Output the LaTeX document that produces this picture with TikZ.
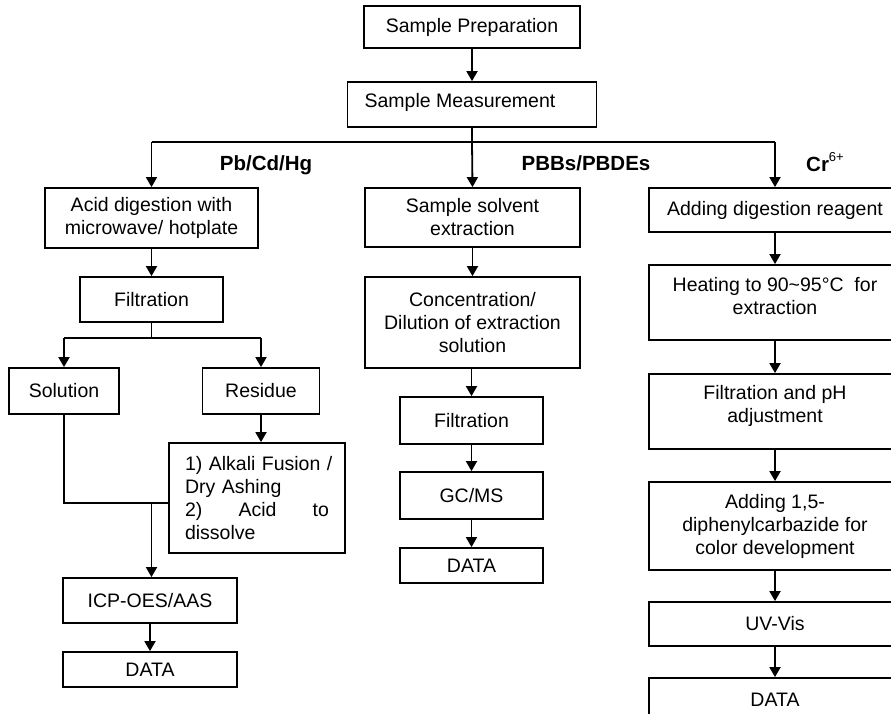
\documentclass[tikz,border=0pt]{standalone}
\usepackage{fontspec}
\setmainfont{Liberation Sans}
\usetikzlibrary{arrows.meta}
\begin{document}
\begin{tikzpicture}[x=1pt,y=-1pt,
  box/.style={draw, line width=1.8pt, inner sep=0pt, align=center, font=\fontsize{19.5}{23}\selectfont},
  txt/.style={inner sep=0pt, align=center, font=\fontsize{19.5}{23}\selectfont},
  lab/.style={inner sep=0pt, font=\fontsize{20.5}{24}\selectfont\bfseries},
  arr/.style={line width=1.8pt, -{Triangle[width=11pt,length=10pt]}},
  ln/.style={line width=1.8pt}]
\useasboundingbox (0,0) rectangle (891,713);
\fill[white] (0,0) rectangle (891,713);
\clip (0,0) rectangle (891,713);

% top
\node[box, minimum width=216pt, minimum height=42pt] (prep) at (472,27) {Sample Preparation};
\node[box, minimum width=249pt, minimum height=45pt] (meas) at (472,104.5) {};
\node[txt] (meast) at (460,102.5) {Sample Measurement};

% labels
\node[lab] (l1) at (266,165) {Pb/Cd/Hg};
\node[lab] (l2) at (586,163) {PBBs/PBDEs};
\node[lab, anchor=base west] (l3) at (806,171) {Cr\raisebox{10pt}{\fontsize{13}{14}\selectfont\mdseries 6+}};

% left column
\node[box, minimum width=213pt, minimum height=60pt] (acid) at (151.5,218) {Acid digestion with\\microwave/ hotplate};
\node[box, minimum width=143pt, minimum height=45pt] (filt1) at (151.5,299.5) {Filtration};
\node[box, minimum width=110pt, minimum height=46pt] (sol) at (64,391) {Solution};
\node[box, minimum width=117pt, minimum height=46pt] (res) at (261,391) {Residue};
\node[box, minimum width=176pt, minimum height=110pt, text width=144pt, align=left] (alk) at (257,498)
  {\mbox{1) Alkali Fusion /}\\Dry Ashing\\\makebox[144pt][s]{2)\hfill Acid\hfill to}\\dissolve};
\node[box, minimum width=174pt, minimum height=45pt] (icp) at (150,600.5) {ICP-OES/AAS};
\node[box, minimum width=174pt, minimum height=35pt] (data1) at (150,669.5) {DATA};

% middle column
\node[box, minimum width=215pt, minimum height=59pt] (solv) at (472.5,217.5) {Sample solvent\\extraction};
\node[box, minimum width=215pt, minimum height=91pt] (conc) at (472.5,322.5) {Concentration/\\Dilution of extraction\\solution};
\node[box, minimum width=143pt, minimum height=47pt] (filt2) at (471.5,420.5) {Filtration};
\node[box, minimum width=143pt, minimum height=47pt] (gcms) at (471.5,495.5) {GC/MS};
\node[box, minimum width=143pt, minimum height=35pt] (data2) at (471.5,565.5) {DATA};

% right column
\node[box, minimum width=252pt, minimum height=44pt] (addr) at (775,210) {Adding digestion reagent};
\node[box, minimum width=252pt, minimum height=75pt] (heat) at (775,302.5) {};
\node[txt] (heatt) at (775,296.5) {Heating to 90\textasciitilde95°C\ \ for\\extraction};
\node[box, minimum width=252pt, minimum height=75pt] (fph) at (775,411.5) {};
\node[txt] (fpht) at (775,405.5) {Filtration and pH\\adjustment};
\node[box, minimum width=252pt, minimum height=88pt] (dpc) at (775,526) {Adding 1,5-\\diphenylcarbazide for\\color development};
\node[box, minimum width=252pt, minimum height=44pt] (uv) at (775,624) {UV-Vis};
\node[box, minimum width=252pt, minimum height=44pt] (data3) at (775,700) {DATA};

% connectors
\draw[arr] (prep.south) -- (meas.north);
\coordinate (br1) at (472,142);
\draw[ln] (meas.south) -- (br1);
\draw[ln] (acid.north |- br1) -- (addr.north |- br1);
\draw[arr] (acid.north |- br1) -- (acid.north);
\draw[arr] (br1) -- (solv.north);
\draw[arr] (addr.north |- br1) -- (addr.north);

\draw[arr] (acid.south) -- (filt1.north);
\coordinate (br2) at (151.5,338);
\draw[ln] (filt1.south) -- (br2);
\draw[ln] (sol.north |- br2) -- (res.north |- br2);
\draw[arr] (sol.north |- br2) -- (sol.north);
\draw[arr] (res.north |- br2) -- (res.north);
\draw[arr] (res.south) -- (res.south |- alk.north);
\coordinate (br3) at (151.5,503);
\draw[ln] (sol.south) -- (sol.south |- br3) -- (alk.west |- br3);
\draw[arr] (br3) -- (br3 |- icp.north);
\draw[arr] (icp.south) -- (icp.south |- data1.north);

\draw[arr] (solv.south) -- (conc.north);
\draw[arr] (filt2.north |- conc.south) -- (filt2.north);
\draw[arr] (filt2.south) -- (gcms.north);
\draw[arr] (gcms.south) -- (data2.north);

\draw[arr] (addr.south) -- (heat.north);
\draw[arr] (heat.south) -- (fph.north);
\draw[arr] (fph.south) -- (dpc.north);
\draw[arr] (dpc.south) -- (uv.north);
\draw[arr] (uv.south) -- (data3.north);
\end{tikzpicture}
\end{document}
